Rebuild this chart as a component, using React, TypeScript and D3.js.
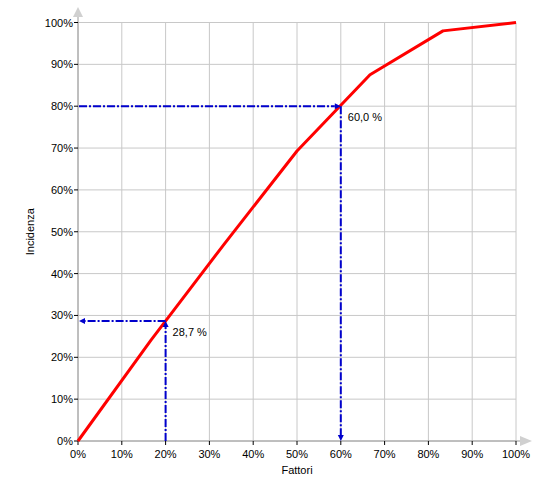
import React from "react";
import * as d3 from "d3";

const fattori = [0, 1 / 6, 2 / 6, 3 / 6, 4 / 6, 5 / 6, 1];
const incidenza = [0, 0.241, 0.47, 0.693, 0.875, 0.98, 1.0];
const ticks = [0, 0.1, 0.2, 0.3, 0.4, 0.5, 0.6, 0.7, 0.8, 0.9, 1.0];
const markX = [0.2, 0.6];
const markY = [0.287, 0.8];
const markLabels = ["28,7 %", "60,0 %"];
const markHorizontalDir = ["left", "right"];
const markVerticalDir = ["up", "down"];

const W = 550, H = 500;
const left = 78, right = 516, top = 22.5, bottom = 441;

export default function App() {
  const x = d3.scaleLinear().domain([0, 1]).range([left, right]);
  const y = d3.scaleLinear().domain([0, 1]).range([bottom, top]);
  const fmt = (v: number) => `${Math.round(v * 100)}%`;
  const line = d3.line<number>().x((_, i) => x(fattori[i])).y((d) => y(d));
  const font = "'Liberation Sans', Arial, sans-serif";
  const blue = "#0000cc";
  return (
    <svg width={W} height={H} style={{ position: "absolute", left: 0, top: 0 }} fontFamily={font}>
      <rect width={W} height={H} fill="#fff" />
      {/* grid */}
      {ticks.map((t) => (
        <g key={"g" + t}>
          <line x1={x(t)} x2={x(t)} y1={y(0)} y2={y(1)} stroke="#c8c8c8" strokeWidth={1} />
          <line x1={x(0)} x2={x(1)} y1={y(t)} y2={y(t)} stroke="#c8c8c8" strokeWidth={1} />
        </g>
      ))}
      {/* axes */}
      <line x1={x(0)} x2={x(0)} y1={bottom} y2={14} stroke="#9a9a9a" strokeWidth={1} />
      <line x1={left} x2={522} y1={bottom} y2={bottom} stroke="#9a9a9a" strokeWidth={1} />
      <path d={`M${x(0) - 5},17 L${x(0) + 5},17 L${x(0)},7 Z`} fill="#d0d0d0" />
      <path d={`M520,${bottom - 5} L520,${bottom + 5} L532,${bottom} Z`} fill="#d0d0d0" />
      {/* y ticks */}
      {ticks.map((t) => (
        <g key={"y" + t}>
          <line x1={left - 4} x2={left} y1={y(t)} y2={y(t)} stroke="#000" />
          <text x={left - 5} y={y(t) + 4} textAnchor="end" fontSize={11} fill="#000">{fmt(t)}</text>
          <line x1={x(t)} x2={x(t)} y1={bottom} y2={bottom + 4} stroke="#000" />
          <text x={x(t)} y={bottom + 17} textAnchor="middle" fontSize={11} fill="#000">{fmt(t)}</text>
        </g>
      ))}
      <text x={(left + right) / 2} y={474} textAnchor="middle" fontSize={11} fill="#000">Fattori</text>
      <text transform={`translate(34,${(top + bottom) / 2}) rotate(-90)`} textAnchor="middle" fontSize={11} fill="#000">Incidenza</text>
      {/* red curve */}
      <path d={line(incidenza) || ""} fill="none" stroke="#ff0000" strokeWidth={3} strokeLinejoin="round" />
      {/* markers */}
      {markX.map((mx, i) => {
        const px = x(mx), py = y(markY[i]);
        const hd = markHorizontalDir[i], vd = markVerticalDir[i];
        const hx1 = hd === "left" ? px : x(0) + 1;
        const hx2 = hd === "left" ? x(0) + 6 : px - 6;
        const arrowH = hd === "left"
          ? `M${x(0) + 1},${py} L${x(0) + 7},${py - 3} L${x(0) + 7},${py + 3} Z`
          : `M${px},${py} L${px - 6},${py - 3} L${px - 6},${py + 3} Z`;
        const vy1 = vd === "up" ? bottom : py;
        const vy2 = vd === "up" ? py + 6 : bottom - 6;
        const arrowV = vd === "up"
          ? `M${px},${py} L${px - 3},${py + 6} L${px + 3},${py + 6} Z`
          : `M${px},${bottom} L${px - 3},${bottom - 6} L${px + 3},${bottom - 6} Z`;
        return (
          <g key={"m" + i}>
            <line x1={hx1} x2={hx2} y1={py} y2={py} stroke={blue} strokeWidth={2} strokeDasharray="8,2,2,2" />
            <line x1={px} x2={px} y1={vy1} y2={vy2} stroke={blue} strokeWidth={2} strokeDasharray="8,2,2,2" />
            <path d={arrowH} fill={blue} />
            <path d={arrowV} fill={blue} />
            <text x={px + 7} y={py + 15} fontSize={11} fill="#000">{markLabels[i]}</text>
          </g>
        );
      })}
    </svg>
  );
}
